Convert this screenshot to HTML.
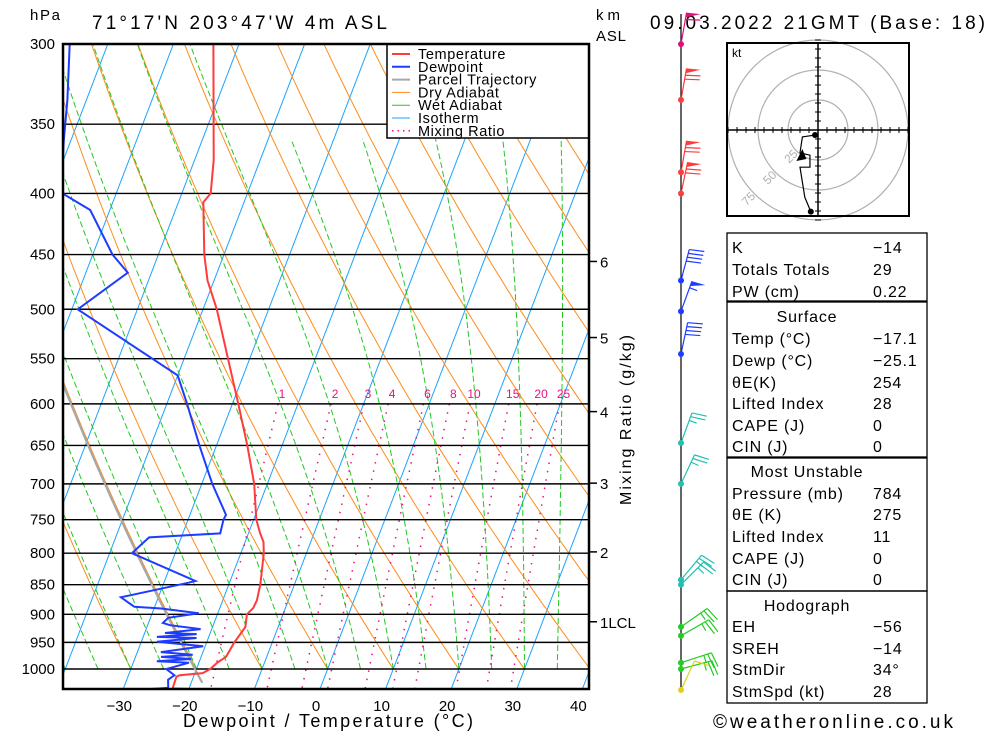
<!DOCTYPE html>
<html><head><meta charset="utf-8"><style>
html,body{margin:0;padding:0;background:#fff;}
svg{display:block;font-family:"Liberation Sans",sans-serif;}
</style></head><body>
<svg id="chart" width="1000" height="733" viewBox="0 0 1000 733" xmlns="http://www.w3.org/2000/svg">
<defs><clipPath id="plotclip"><rect x="63" y="44" width="526" height="645"/></clipPath></defs>
<rect width="1000" height="733" fill="#fff"/>
<text x="30" y="20" font-size="15" textLength="30">hPa</text>
<text x="92" y="29" font-size="19" textLength="295">71°17'N 203°47'W 4m ASL</text>
<text x="596" y="20" font-size="15" textLength="24">km</text>
<text x="596" y="41" font-size="15" textLength="30">ASL</text>
<text x="650" y="29" font-size="19" textLength="335">09.03.2022 21GMT (Base: 18)</text>
<g id="plot" clip-path="url(#plotclip)"></g>
<g id="overlay"></g>
</svg>
<script>
const pressureLevels=[300,350,400,450,500,550,600,650,700,750,800,850,900,950,1000];
const xTicks=[-30,-20,-10,0,10,20,30,40];
const dryThetas=[223.15,233.15,243.15,253.15,263.15,273.15,283.15,293.15,303.15,313.15,323.15,333.15,343.15,353.15,363.15,373.15,383.15,393.15,403.15,413.15,423.15,433.15,443.15,453.15];
const wetThetas=[-40,-35,-30,-25,-20,-15,-10,-5,0,5,10,15,20,25,30,35];
const isotherms=[-130,-120,-110,-100,-90,-80,-70,-60,-50,-40,-30,-20,-10,0,10,20,30,40];
const mixingRatios=[1,2,3,4,6,8,10,15,20,25];
const tempP=[300,375,400,407,450,473,500,550,600,650,700,750,770,783,800,850,876,889,900,922,933,951,977,988,1000,1008,1012,1015,1038,1039];
const tempT=[-53.9,-47.1,-45.6,-46.2,-43.0,-41.0,-37.9,-33.3,-29.1,-25.3,-22.0,-19.6,-18.2,-17.2,-16.5,-15.2,-14.8,-14.9,-15.5,-15.0,-15.3,-15.8,-16.2,-17.2,-17.9,-18.8,-22.2,-22.6,-22.5,-20.2];
const dewP=[300,334,361,394,400,413,450,466,500,568,600,650,700,743,750,770,776,784,800,844,847,871,887,890,898,906,915,919,926,933,935,940,942,949,957,968,973,977,981,985,988,1000,1012,1021,1037,1039];
const dewT=[-75.8,-72.9,-71.1,-68.8,-68.2,-63.0,-57.0,-53.6,-59.1,-40.0,-36.9,-32.6,-28.4,-24.5,-24.6,-24.3,-34.9,-35.5,-36.6,-25.3,-26.3,-35.7,-33.1,-28.9,-22.9,-27.3,-27.8,-26.6,-21.7,-26.9,-22.0,-27.9,-21.8,-27.6,-20.3,-26.4,-21.4,-26.1,-21.4,-26.5,-21.5,-24.6,-23.0,-23.7,-23.2,-25.5];
const parcelStartP=1027, parcelStartT=-18.3;
const kmLabels=["6","5","4","3","2","1LCL"];
const kmPressures=[456,528,609,699,798,913];
const windP=[300,334,384,400,473,502,545,647,700,842,850,922,938,988,1000,1039];
const windSpd=[60,70,70,70,40,55,40,25,25,25,25,25,25,25,25,10];
const windDir=[10,10,10,12,15,20,12,20,25,40,45,55,60,72,75,25];
const hodoU=[-2.5,-13,-15,-6.7,-6.7,-15,-11,-6];
const hodoV=[-4.2,-5.8,-19,-21,-31,-31,-56,-68];
const hodoRings=[25,50,75];

const NS="http://www.w3.org/2000/svg";
const svg=document.getElementById('chart');
const plot=document.getElementById('plot');
const overlay=document.getElementById('overlay');
function el(tag,attrs,parent){const e=document.createElementNS(NS,tag);for(const k in attrs)e.setAttribute(k,attrs[k]);(parent||svg).appendChild(e);return e;}
function yP(p){return 669-519*Math.log(1000/p);}
function xT(T,p){return 320+6.56*T+0.383*(689-yP(p));}
function pts(arrP,arrT){return arrP.map((p,i)=>xT(arrT[i],p).toFixed(1)+','+yP(p).toFixed(1)).join(' ');}

// isotherms
isotherms.forEach(T=>{
  const l=el('line',{x1:xT(T,250),y1:yP(250),x2:xT(T,1045),y2:yP(1045),stroke:'#1aa3ff','stroke-width':1},plot);
  
  
});
// dry adiabats (end at 1000)
dryThetas.forEach(th=>{
  const P=[],T=[];for(let p=280;p<=1000;p+=10){P.push(p);T.push(th*Math.pow(p/1000,0.286)-273.15);}
  const l=el('polyline',{points:pts(P,T),fill:'none',stroke:'#ff8c1a','stroke-width':1},plot);
  
  
});
// wet adiabats
function dTdp(p,Tk){const Tc=Tk-273.15;const es=6.112*Math.exp(17.67*Tc/(Tc+243.5));const rs=0.622*es/(p-es);
  return (287*Tk+2.501e6*rs)/(p*(1004+2.501e6*2.501e6*rs*0.622/(287*Tk*Tk)));}
wetThetas.forEach(tw=>{
  let Tk=tw+273.15;const P=[1000],T=[tw];const top=tw>=15?360:280;
  for(let p=1000;p>top;p-=2){Tk+=dTdp(p,Tk)*(-2);if((p-2)%10===0){P.push(p-2);T.push(Tk-273.15);}}
  const l=el('polyline',{points:pts(P,T),fill:'none',stroke:'#22c822','stroke-width':1,'stroke-dasharray':'6 3'},plot);
  
  
});
// mixing ratio lines
function tdW(w,p){const e=w*p/(622+w);const a=Math.log(e/6.112);return 243.5*a/(17.67-a);}
mixingRatios.forEach(w=>{
  const P=[],T=[];
  for(let p=600;p<=1045;p+=10){P.push(p);T.push(tdW(w,p));}
  const l=el('polyline',{points:pts(P,T),fill:'none',stroke:'#e8117f','stroke-width':1.5,'stroke-dasharray':'1.5 7'},plot);
  
  
  const t=el('text',{x:xT(T[0],600)+4,y:yP(600)-6,'font-size':12,fill:'#e8117f','text-anchor':'middle'},plot);
  t.textContent=w;
  
  
});
// pressure grid
pressureLevels.forEach(p=>{
  const l=el('line',{x1:63,x2:589,y1:yP(p),y2:yP(p),stroke:'#000','stroke-width':1.4},plot);
  
  
});
// parcel trajectory
(function(){const th=(parcelStartT+273.15)*Math.pow(1000/parcelStartP,0.286);const P=[],T=[];
  for(let p=300;p<=parcelStartP;p+=5){P.push(p);T.push(th*Math.pow(p/1000,0.286)-273.15);}
  P.push(parcelStartP);T.push(parcelStartT);
  const l=el('polyline',{points:pts(P,T),fill:'none',stroke:'#a8a8a8','stroke-width':2.2},plot);
  
  
})();
// dewpoint
const dl=el('polyline',{points:pts(dewP,dewT),fill:'none',stroke:'#1e3cff','stroke-width':2},plot);


// temperature
const tl=el('polyline',{points:pts(tempP,tempT),fill:'none',stroke:'#ff3b3b','stroke-width':2},plot);



// legend
const lg=el('g',{},overlay);


el('rect',{x:387,y:44,width:202,height:94,fill:'#fff',stroke:'#000','stroke-width':1.5},lg);
const legItems=[['Temperature','#ff3b3b',2,''],['Dewpoint','#1e3cff',2,''],['Parcel Trajectory','#a8a8a8',2,''],['Dry Adiabat','#ff8c1a',1,''],['Wet Adiabat','#22c822',1,''],['Isotherm','#1aa3ff',1,''],['Mixing Ratio','#e8117f',1.5,'1.5 4']];
legItems.forEach((it,i)=>{const y=54+i*12.8;
  const g=el('g',{},lg);
  
  
  const a={x1:392,x2:410,y1:y,y2:y,stroke:it[1],'stroke-width':it[2]};if(it[3])a['stroke-dasharray']=it[3];
  el('line',a,g);
  const t=el('text',{x:418,y:y+5,'font-size':14.5,'letter-spacing':'0.6'},g);t.textContent=it[0];
});
// frame
el('rect',{x:63,y:44,width:526,height:645,fill:'none',stroke:'#000','stroke-width':2.5},overlay);
// pressure labels
pressureLevels.forEach(p=>{const t=el('text',{x:55,y:yP(p)+5,'font-size':15,'text-anchor':'end'},overlay);t.textContent=p;
  
  });
// x labels
xTicks.forEach(T=>{const t=el('text',{x:316+6.56*T,y:711,'font-size':15,'text-anchor':'middle'},overlay);t.textContent=(T<0?'\u2212'+(-T):T);
  
  });
const xt=el('text',{x:183,y:727,'font-size':18,textLength:290},overlay);xt.textContent='Dewpoint / Temperature (°C)';


// km axis
kmLabels.forEach((k,i)=>{const y=yP(kmPressures[i]);
  el('line',{x1:589,x2:597,y1:y,y2:y,stroke:'#000','stroke-width':1.5},overlay);
  const t=el('text',{x:600,y:y+6,'font-size':15},overlay);t.textContent=k;
  
  });
const mr=el('text',{x:0,y:0,'font-size':16,'text-anchor':'middle',transform:'translate(631,420) rotate(-90)',textLength:170},overlay);mr.textContent='Mixing Ratio (g/kg)';



// wind column
el('line',{x1:681,x2:681,y1:14,y2:690,stroke:'#000','stroke-width':1.2},overlay);
function windColor(p){if(p<=300)return '#e0107a';if(p<=400)return '#ff3b3b';if(p<=560)return '#1e3cff';if(p<=860)return '#22c0b0';if(p<=1000)return '#22cc22';return '#e0d020';}
windP.forEach((p,i)=>{
  const g=el('g',{},overlay);
  
  
  const c=windColor(p);const x0=681,y0=p>=1039?690:yP(p);
  const a=windDir[i]*Math.PI/180;const sx=Math.sin(a),sy=-Math.cos(a),px=Math.cos(a),py=Math.sin(a);
  const L=32;const xe=x0+sx*L,ye=y0+sy*L;
  el('line',{x1:x0,y1:y0,x2:xe,y2:ye,stroke:c,'stroke-width':1.2},g);
  el('circle',{cx:x0,cy:y0,r:3,fill:c},g);
  let s=windSpd[i],pos=0;
  while(s>=50){const bx=xe-sx*pos,by=ye-sy*pos;
    el('polygon',{points:`${bx},${by} ${bx+px*14+sx*1},${by+py*14+sy*1} ${bx-sx*5},${by-sy*5}`,fill:c},g);pos+=7;s-=50;}
  while(s>=10){const bx=xe-sx*pos,by=ye-sy*pos;
    el('line',{x1:bx,y1:by,x2:bx+px*15+sx*2,y2:by+py*15+sy*2,stroke:c,'stroke-width':1.2},g);pos+=4;s-=10;}
  if(s>=5){const bx=xe-sx*pos,by=ye-sy*pos;el('line',{x1:bx,y1:by,x2:bx+px*8,y2:by+py*8,stroke:c,'stroke-width':1.2},g);}
});

// hodograph
const hg=el('g',{},overlay);


const hcx=818,hcy=130,hs=1.2;
hodoRings.forEach(r=>{el('circle',{cx:hcx,cy:hcy,r:r*hs,fill:'none',stroke:'#b0b0b0','stroke-width':1.2},hg);
  const a=(225)*Math.PI/180;const t=el('text',{x:0,y:0,'font-size':12,fill:'#b0b0b0','text-anchor':'middle',transform:`translate(${hcx+Math.sin(a)*r*hs-3},${hcy-Math.cos(a)*r*hs+8}) rotate(-45)`},hg);t.textContent=r;});
el('rect',{x:727,y:43,width:182,height:173,fill:'none',stroke:'#000','stroke-width':2},hg);
el('line',{x1:727,x2:909,y1:hcy,y2:hcy,stroke:'#000','stroke-width':1.5},hg);
el('line',{x1:hcx,x2:hcx,y1:43,y2:216,stroke:'#000','stroke-width':1.5},hg);
for(let d=-90;d<=90;d+=9){if(d===0)continue;
  el('line',{x1:hcx+d,x2:hcx+d,y1:hcy-3,y2:hcy+3,stroke:'#000','stroke-width':1},hg);
  el('line',{x1:hcx-3,x2:hcx+3,y1:hcy+d,y2:hcy+d,stroke:'#000','stroke-width':1},hg);}
const kt=el('text',{x:732,y:57,'font-size':12},hg);kt.textContent='kt';
el('polyline',{points:hodoU.map((u,i)=>(hcx+u*hs)+','+(hcy-hodoV[i]*hs)).join(' '),fill:'none',stroke:'#000','stroke-width':1.2},hg);
el('circle',{cx:hcx+hodoU[0]*hs,cy:hcy-hodoV[0]*hs,r:3,fill:'#000'},hg);
el('circle',{cx:hcx+hodoU[hodoU.length-1]*hs,cy:hcy-hodoV[hodoV.length-1]*hs,r:3,fill:'#000'},hg);
el('polygon',{points:`${hcx+hodoU[1]*hs},${hcy-hodoV[1]*hs+12} ${hcx+hodoU[1]*hs-6},${hcy-hodoV[1]*hs+24} ${hcx+hodoU[1]*hs+4},${hcy-hodoV[1]*hs+22}`,fill:'#000'},hg);

// tables
const boxes=[[233,301],[302,457],[458,591],[591,703]];
boxes.forEach(b=>{const r=el('rect',{x:727,y:b[0],width:200,height:b[1]-b[0],fill:'none',stroke:'#000','stroke-width':1.3},overlay);
  
  });
const rows=[['K','\u221214',253],['Totals Totals','29',275],['PW (cm)','0.22',297],
['Temp (°C)','\u221217.1',344],['Dewp (°C)','\u221225.1',366],['θE(K)','254',388],['Lifted Index','28',409],['CAPE (J)','0',431],['CIN (J)','0',452],
['Pressure (mb)','784',499],['θE (K)','275',520],['Lifted Index','11',542],['CAPE (J)','0',564],['CIN (J)','0',585],
['EH','\u221256',632],['SREH','\u221214',654],['StmDir','34°',675],['StmSpd (kt)','28',697]];
rows.forEach(r=>{const a=el('text',{x:732,y:r[2],'font-size':16,'letter-spacing':'0.8'},overlay);a.textContent=r[0];
  
  
  const b=el('text',{x:873,y:r[2],'font-size':16,'letter-spacing':'0.8'},overlay);b.textContent=r[1];
  
  });
[['Surface',322],['Most Unstable',477],['Hodograph',611]].forEach(h=>{const t=el('text',{x:807,y:h[1],'font-size':16,'text-anchor':'middle','letter-spacing':'0.8'},overlay);t.textContent=h[0];
  
  });
const cp=el('text',{x:713,y:728,'font-size':19,textLength:240},overlay);cp.textContent='©weatheronline.co.uk';


</script>
</body></html>
